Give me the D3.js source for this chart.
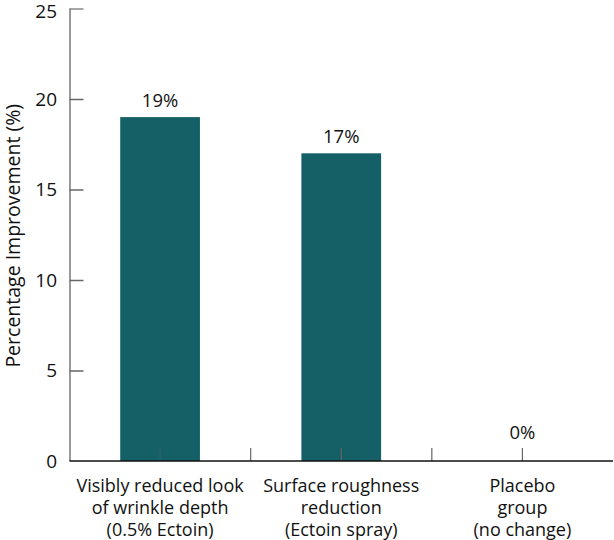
<!DOCTYPE html>
<html>
<head>
<meta charset="utf-8">
<script src="https://cdn.jsdelivr.net/npm/d3@7"></script>
<style>
  body { margin: 0; background: #fff; }
  text { font-family: "Open Sans", "Noto Sans", sans-serif; fill: #111; }
</style>
</head>
<body>
<div id="chart"></div>
<script>
const categories = [
  ["Visibly reduced look", "of wrinkle depth", "(0.5% Ectoin)"],
  ["Surface roughness", "reduction", "(Ectoin spray)"],
  ["Placebo", "group", "(no change)"]
];
const values = [19, 17, 0];
const yTicks = [0, 5, 10, 15, 20, 25];

const width = 614, height = 540;
const margin = { left: 69.5, right: 1, top: 8.5, bottom: 79 };

const svg = d3.select("#chart").append("svg")
  .attr("width", width)
  .attr("height", height);

const x = d3.scaleBand()
  .domain(d3.range(categories.length))
  .range([margin.left, width - margin.right])
  .padding(0);

const y = d3.scaleLinear()
  .domain([0, 25])
  .range([height - margin.bottom, margin.top]);

const barW = x.bandwidth() * 0.44;

// y axis, ticks pointing inward
const yAxis = svg.append("g")
  .attr("transform", `translate(${margin.left},0)`)
  .call(d3.axisRight(y).tickValues(yTicks).tickSize(14).tickFormat(""));
yAxis.select(".domain").attr("stroke", "#777").attr("stroke-width", 1.5)
  .attr("d", `M0.5,${y(25)}V${y(0)}`);
yAxis.selectAll(".tick line").attr("stroke", "#666").attr("stroke-width", 1.5);
yAxis.selectAll(".tick").filter(d => d === 25).select("line").attr("stroke", "#888");
yAxis.selectAll(".tick").filter(d => d === 0).remove();

svg.append("g").selectAll("text")
  .data(yTicks)
  .join("text")
  .attr("x", 57)
  .attr("y", d => Math.max(y(d), 11.5))
  .attr("dy", "0.36em")
  .attr("text-anchor", "end")
  .style("font-size", "19px")
  .text(d => d);

// bars
svg.append("g").selectAll("rect")
  .data(values)
  .join("rect")
  .attr("x", (d, i) => x(i) + (x.bandwidth() - barW) / 2)
  .attr("y", d => y(d))
  .attr("width", barW)
  .attr("height", d => y(0) - y(d))
  .attr("fill", "#156066");

// x ticks (centers and boundaries), pointing up
const xTickPos = [];
categories.forEach((c, i) => {
  xTickPos.push(x(i) + x.bandwidth() / 2);
  if (i > 0) xTickPos.push(x(i));
});
svg.append("g").selectAll("line")
  .data(xTickPos)
  .join("line")
  .attr("x1", d => d).attr("x2", d => d)
  .attr("y1", y(0)).attr("y2", y(0) - 13)
  .attr("stroke", "#666")
  .attr("stroke-width", 1.2)
  .attr("opacity", (d, i) => i === 0 ? 0.35 : 1);

// x axis line
svg.append("line")
  .attr("x1", margin.left).attr("x2", width - margin.right)
  .attr("y1", y(0)).attr("y2", y(0))
  .attr("stroke", "#111")
  .attr("stroke-width", 1.5);

// value labels
svg.append("g").selectAll("text")
  .data(values)
  .join("text")
  .attr("x", (d, i) => x(i) + x.bandwidth() / 2)
  .attr("y", d => y(d) - (d === 0 ? 22 : 10))
  .attr("text-anchor", "middle")
  .style("font-size", "18.5px")
  .text(d => d + "%");

// category labels
const lab = svg.append("g").selectAll("text")
  .data(categories)
  .join("text")
  .attr("x", (d, i) => x(i) + x.bandwidth() / 2)
  .attr("y", 492)
  .attr("text-anchor", "middle")
  .style("font-size", "18px");
lab.selectAll("tspan")
  .data(d => d)
  .join("tspan")
  .attr("x", function () { return d3.select(this.parentNode).attr("x"); })
  .attr("dy", (d, i) => i === 0 ? 0 : "1.22em")
  .text(d => d);

// y title
svg.append("text")
  .attr("transform", `translate(20,${(y(0) + y(25)) / 2 + 1}) rotate(-90)`)
  .attr("text-anchor", "middle")
  .style("font-size", "19.5px")
  .text("Percentage Improvement (%)");
</script>
</body>
</html>
